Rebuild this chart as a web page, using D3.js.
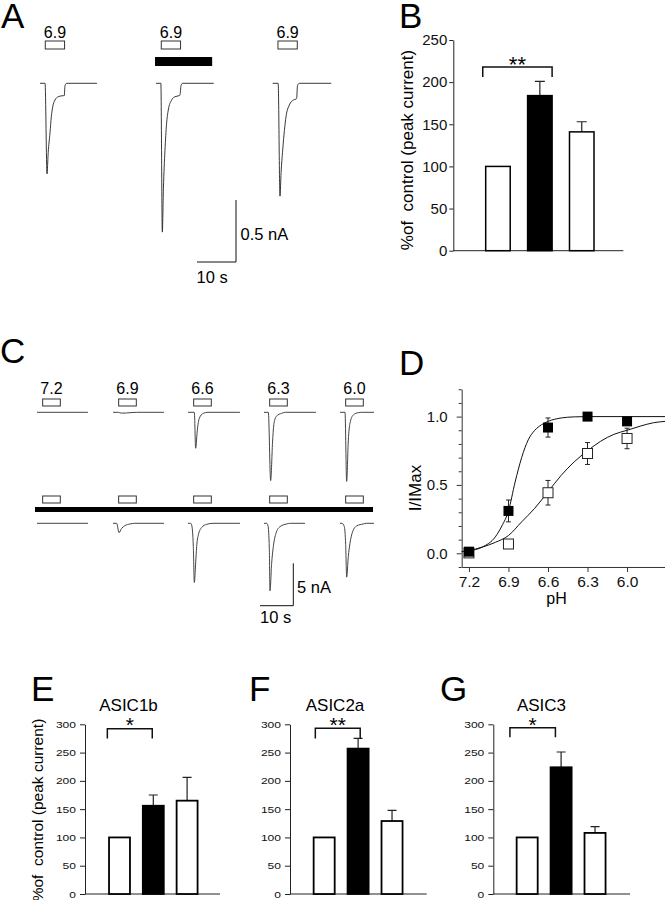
<!DOCTYPE html>
<html>
<head>
<meta charset="utf-8">
<style>
    body { margin: 0; background: #fff; }
    svg { font-family: "Liberation Sans", Arial, Helvetica, sans-serif; }
    .pre { white-space: pre; }
</style>
</head>
<body>
<script src="https://cdn.jsdelivr.net/npm/d3@7"></script>
<script>
// ---- data ----
// A: currents at pH 6.9, time (s) vs current (nA, inward negative)
var traceA_control = [[0,0],[1.3,0],[1.8,-0.73],[2.1,-0.56],[2.56,-0.40],[2.9,-0.27],[3.26,-0.19],[3.85,-0.135],[4.7,-0.108],[5.97,-0.1],[6.23,-0.1],[6.4,-0.02],[6.8,0],[14.6,0]];
var traceA_treated = [[0,0],[1.25,0],[1.62,-1.2],[1.9,-0.85],[2.3,-0.54],[2.7,-0.33],[3.15,-0.215],[4.0,-0.135],[4.87,-0.108],[5.9,-0.1],[6.15,-0.095],[6.4,-0.02],[6.8,0],[14.8,0]];
var traceA_wash = [[0,0],[1.4,0],[1.87,-0.91],[2.15,-0.72],[2.56,-0.54],[3.0,-0.38],[3.41,-0.27],[4.26,-0.175],[5.28,-0.135],[5.97,-0.127],[6.15,-0.12],[6.35,-0.02],[6.8,0],[15.0,0]];
var pulseA = [1.35, 6.3];
var drugBarA = [-0.25, 14.4];
var labelsA = ['6.9', '6.9', '6.9'];

// B: % of control (peak current)
var conditions = ['control', 'treated', 'washout'];
var pctB = [100, 184, 141], semB = [0, 17, 12];
var ticksB = [0, 50, 100, 150, 200, 250];
var bracketB = [218, 206];

// C: pH series, control row and treated row
var phLabels = ['7.2', '6.9', '6.6', '6.3', '6.0'];
var tracesC_control = [
    [[0,0],[15.3,0]],
    [[0,0],[1.6,0],[2.5,-0.1],[4,-0.08],[6,-0.02],[7,0],[15.3,0]],
    [[0,0],[1.9,0],[2.3,-4.24],[2.8,-2.08],[3.4,-0.7],[4.6,-0.12],[6,0],[15.6,0]],
    [[0,0],[1.3,0],[2.0,-8.05],[2.6,-3.26],[3.0,-1.3],[3.8,-0.43],[5.3,-0.12],[6.5,0],[15.6,0]],
    [[0,0],[1.5,0],[2.0,-8.15],[2.5,-3.26],[3.0,-1.3],[4.0,-0.31],[5.5,-0.04],[6.5,0],[10.2,0]]
];
var tracesC_treated = [
    [[0,0],[15.3,0]],
    [[0,0],[1.1,0],[1.8,-1.1],[2.6,-0.6],[3.6,-0.27],[5.1,-0.08],[6.5,0],[15.3,0]],
    [[0,0],[0.8,0],[1.1,-0.2],[1.6,-2.75],[1.9,-6.98],[2.3,-4.7],[2.6,-2.75],[3.1,-1.37],[4.1,-0.5],[5.6,-0.12],[7.5,0],[15.6,0]],
    [[0,0],[0.8,0],[1.2,-0.3],[1.6,-3],[1.8,-7.96],[2.3,-4.7],[2.8,-2.75],[3.6,-1.18],[4.8,-0.4],[6.8,-0.08],[8,0],[12.3,0]],
    [[0,0],[0.6,0],[1.3,-0.4],[1.7,-2.5],[2.0,-6.35],[2.5,-3.9],[3.0,-2.35],[3.8,-0.98],[5.0,-0.31],[7.0,-0.08],[8,0],[10.2,0]]
];
var pulseC = [1.7, 7.0];

// D: pH dependence, I/IMax
var phD = [7.2, 6.9, 6.6, 6.3, 6.0];
var filledD = [0.012, 0.31, 0.92, 1.0, 0.965];
var filledErrD = [0.01, 0.08, 0.07, 0.01, 0.02];
var openD = [0.003, 0.068, 0.443, 0.73, 0.84];
var openErrD = [0.005, 0.01, 0.09, 0.08, 0.075];
var fitFilledD = [[7.255,0.012],[7.2,0.018],[7.1,0.045],[7.0,0.12],[6.95,0.2],[6.9,0.31],[6.85,0.52],[6.8,0.7],[6.75,0.83],[6.7,0.9],[6.65,0.94],[6.6,0.965],[6.5,0.99],[6.4,0.998],[6.3,1.0],[5.712,1.0]];
var fitOpenD = [[7.255,0.012],[7.2,0.02],[7.1,0.045],[7.0,0.08],[6.9,0.13],[6.8,0.23],[6.7,0.33],[6.6,0.45],[6.5,0.57],[6.4,0.67],[6.3,0.75],[6.2,0.82],[6.1,0.87],[6.0,0.9],[5.9,0.93],[5.8,0.955],[5.712,0.965]];
var majorD = [0, 0.5, 1.0];
var minorD = [-0.1,0,0.1,0.2,0.3,0.4,0.5,0.6,0.7,0.8,0.9,1.0,1.1,1.2];

// E-G: other ASIC subunits
var titlesEFG = ['ASIC1b', 'ASIC2a', 'ASIC3'];
var pctE = [100, 156, 165], semE = [0, 19, 41];
var pctF = [100, 257, 129], semF = [0, 18, 19];
var pctG = [100, 224, 108], semG = [0, 27, 11];
var ticksEFG = [0, 50, 100, 150, 200, 250, 300];
var bracketsEFG = [[292, 275], [293, 275], [294, 277]];
var starsEFG = ['*', '**', '*'];

// ---- drawing ----
var svg = d3.select('body').append('svg').attr('width', 665).attr('height', 900);

function traceLine(xs, ys) {
    return d3.line().x(d => xs(d[0])).y(d => ys(d[1])).curve(d3.curveMonotoneX);
}

function letter(t, x, y) {
    svg.append('text').attr('x', x).attr('y', y).attr('font-size', 35).text(t);
}

// panel A
var xA = d3.scaleLinear().domain([0, 10]).range([0, 39]);
var yA = d3.scaleLinear().domain([0, -0.5]).range([0, 62]);
var startA = [40, 156, 272.7];
[traceA_control, traceA_treated, traceA_wash].forEach(function(tr, i) {
    var g = svg.append('g').attr('transform', 'translate(' + startA[i] + ',83.3)');
    g.append('path').datum(tr).attr('d', traceLine(xA, yA))
     .attr('fill', 'none').attr('stroke', '#222').attr('stroke-width', 0.9);
    g.append('rect').attr('x', xA(pulseA[0])).attr('y', -42.3)
     .attr('width', xA(pulseA[1]) - xA(pulseA[0])).attr('height', 8)
     .attr('fill', 'none').attr('stroke', '#333').attr('stroke-width', 1);
    g.append('text').attr('x', xA((pulseA[0] + pulseA[1]) / 2)).attr('y', -45.3)
     .attr('text-anchor', 'middle').attr('font-size', 16).text(labelsA[i]);
    if (i === 1) {
        g.append('rect').attr('x', xA(drugBarA[0])).attr('y', -26.3)
         .attr('width', xA(drugBarA[1]) - xA(drugBarA[0])).attr('height', 9).attr('fill', '#000');
    }
});
// scale bar A
svg.append('path')
   .attr('d', 'M236,' + (262 - yA(-0.5)) + 'V262H' + (236 - xA(10)))
   .attr('fill', 'none').attr('stroke', '#111');
svg.append('text').attr('x', 240.5).attr('y', 240).attr('font-size', 16.5).text('0.5 nA');
svg.append('text').attr('x', 196.5).attr('y', 283).attr('font-size', 16.5).text('10 s');
letter('A', 1, 28);

// bar panels
function barPanel(o) {
    var top = o.ticks[o.ticks.length - 1];
    var y = d3.scaleLinear().domain([0, top]).range([o.base, o.top]);
    var x = d3.scaleBand().domain(conditions).range(o.band)
              .paddingInner(o.gap).paddingOuter(o.gap / 2);
    var g = svg.append('g');

    var ax = g.append('g').attr('transform', 'translate(' + o.axisX + ',0)')
        .call(d3.axisLeft(y).tickValues(o.ticks).tickSize(o.tick).tickSizeOuter(0).tickPadding(o.pad));
    ax.attr('font-family', null).attr('font-size', o.font);
    ax.selectAll('path, line').attr('stroke', '#222');
    ax.selectAll('text').attr('fill', '#111');
    if (o.squeeze) {
        ax.selectAll('text').attr('textLength', d => String(d).length * o.squeeze)
          .attr('lengthAdjust', 'spacingAndGlyphs');
    }
    g.append('line').attr('x1', o.axisX).attr('x2', o.axisEnd)
     .attr('y1', y(0)).attr('y2', y(0)).attr('stroke', '#222');

    // error bars (upward only)
    o.values.forEach(function(v, i) {
        if (!o.sem[i]) return;
        var cx = x(conditions[i]) + x.bandwidth() / 2;
        g.append('path')
         .attr('d', 'M' + cx + ',' + y(v) + 'V' + y(v + o.sem[i]) + 'M' + (cx - o.cap) + ',' + y(v + o.sem[i]) + 'H' + (cx + o.cap))
         .attr('stroke', '#222').attr('stroke-width', 1.2).attr('fill', 'none');
    });
    g.selectAll('rect.bar').data(o.values).join('rect').attr('class', 'bar')
     .attr('x', (d, i) => x(conditions[i])).attr('y', d => y(d))
     .attr('width', x.bandwidth()).attr('height', d => y(0) - y(d))
     .attr('fill', (d, i) => i === 1 ? '#000' : '#fff')
     .attr('stroke', '#000').attr('stroke-width', o.barStroke);

    // significance bracket
    var bw = x.bandwidth();
    var bx0 = x(conditions[0]) + o.brk[0] * bw, bx1 = x(conditions[1]) + o.brk[1] * bw;
    g.append('path')
     .attr('d', 'M' + bx0 + ',' + y(o.bracket[1]) + 'V' + y(o.bracket[0]) + 'H' + bx1 + 'V' + y(o.bracket[1]))
     .attr('fill', 'none').attr('stroke', '#111').attr('stroke-width', 1.5);
    g.append('text').attr('x', (bx0 + bx1) / 2).attr('y', o.starY)
     .attr('text-anchor', 'middle').attr('font-size', o.starSize).text(o.stars);

    if (o.title) {
        g.append('text').attr('x', o.titleX).attr('y', 711).attr('text-anchor', 'middle')
         .attr('font-size', 17).text(o.title);
    }
    if (o.ylabel) {
        g.append('text').attr('class', 'pre')
         .attr('transform', 'translate(' + o.ylabel[0] + ',' + o.ylabel[1] + ') rotate(-90)')
         .attr('text-anchor', 'middle').attr('font-size', o.ylabel[2]).text('%of  control (peak current)');
    }
}

barPanel({
    ticks: ticksB, base: 250.7, top: 40, band: [477, 602.7], gap: 0.415,
    axisX: 453.3, axisEnd: 623.3, tick: 4, pad: 2, font: 15,
    values: pctB, sem: semB, cap: 5, barStroke: 1.5,
    bracket: bracketB, brk: [-0.12, 1.0], stars: '**', starY: 72, starSize: 22,
    ylabel: [413, 150, 17]
});
letter('B', 399, 28);

var layoutEFG = [
    {axisX: 85, axisEnd: 220, band: [102.6, 204], brk: [-0.08, 0.45], titleX: 128.5},
    {axisX: 290, axisEnd: 426.7, band: [307.2, 409], brk: [0.08, 0.6], titleX: 335},
    {axisX: 493.3, axisEnd: 630, band: [510.2, 612], brk: [-0.32, 0.23], titleX: 541.5}
];
[[pctE, semE], [pctF, semF], [pctG, semG]].forEach(function(d, i) {
    var L = layoutEFG[i];
    barPanel({
        ticks: ticksEFG, base: 894, top: 724.3, band: L.band, gap: 0.38,
        axisX: L.axisX, axisEnd: L.axisEnd, tick: 5, pad: 4, font: 9.5, squeeze: 6.7,
        values: d[0], sem: d[1], cap: 4.5, barStroke: 1.8,
        bracket: bracketsEFG[i], brk: L.brk, stars: starsEFG[i], starY: 732, starSize: 21,
        title: titlesEFG[i], titleX: L.titleX,
        ylabel: i === 0 ? [43, 810, 15.5] : null
    });
});
letter('E', 31, 701);
letter('F', 249, 701);
letter('G', 440, 701);

// panel C
var xC = d3.scaleLinear().domain([0, 10]).range([0, 33.3]);
var yC = d3.scaleLinear().domain([0, -5]).range([0, 42.4]);
var startC = [37, 113, 188, 264, 340];
[[tracesC_control, 412.3, 399], [tracesC_treated, 523.3, 496]].forEach(function(row, r) {
    row[0].forEach(function(tr, i) {
        var g = svg.append('g').attr('transform', 'translate(' + startC[i] + ',' + row[1] + ')');
        g.append('path').datum(tr).attr('d', traceLine(xC, yC))
         .attr('fill', 'none').attr('stroke', '#444').attr('stroke-width', 1);
        g.append('rect').attr('x', xC(pulseC[0])).attr('y', row[2] - row[1])
         .attr('width', xC(pulseC[1]) - xC(pulseC[0])).attr('height', 7)
         .attr('fill', 'none').attr('stroke', '#333').attr('stroke-width', 1);
        if (r === 0) {
            g.append('text').attr('x', xC((pulseC[0] + pulseC[1]) / 2)).attr('y', 394 - row[1])
             .attr('text-anchor', 'middle').attr('font-size', 16).text(phLabels[i]);
        }
    });
});
svg.append('rect').attr('x', 35).attr('y', 507).attr('width', 338).attr('height', 5).attr('fill', '#000');
svg.append('path')
   .attr('d', 'M293.3,' + (605.7 - yC(-5)) + 'V605.7H' + (293.3 - xC(10)))
   .attr('fill', 'none').attr('stroke', '#111');
svg.append('text').attr('x', 297).attr('y', 593).attr('font-size', 16.5).text('5 nA');
svg.append('text').attr('x', 260).attr('y', 623).attr('font-size', 16.5).text('10 s');
letter('C', 0, 363);

// panel D
var xD = d3.scaleLinear().domain([7.255, 5.712]).range([461.7, 665]);
var yD = d3.scaleLinear().domain([-0.1, 1.2]).range([566.97, 389.26]);
var gD = svg.append('g');
var yAxD = gD.append('g').attr('transform', 'translate(461.7,0)')
    .call(d3.axisLeft(yD).tickValues(minorD).tickSize(3).tickSizeOuter(0).tickPadding(11)
        .tickFormat(d => majorD.some(m => Math.abs(m - d) < 1e-6) ? d3.format('.1f')(d) : ''));
yAxD.attr('font-family', null).attr('font-size', 15);
yAxD.selectAll('.tick').filter(d => majorD.some(m => Math.abs(m - d) < 1e-6))
    .select('line').attr('x2', -5);
var xAxD = gD.append('g').attr('transform', 'translate(0,' + yD(-0.1) + ')')
    .call(d3.axisBottom(xD).tickValues(phD).tickSize(5).tickSizeOuter(0).tickPadding(4)
        .tickFormat(d3.format('.1f')));
xAxD.attr('font-family', null).attr('font-size', 15.5);
gD.selectAll('path.domain, .tick line').attr('stroke', '#333');
gD.selectAll('.tick text').attr('fill', '#111');

var fitLine = d3.line().x(d => xD(d[0])).y(d => yD(d[1])).curve(d3.curveMonotoneX);
gD.append('path').datum(fitOpenD).attr('d', fitLine).attr('fill', 'none').attr('stroke', '#111').attr('stroke-width', 1);
gD.append('path').datum(fitFilledD).attr('d', fitLine).attr('fill', 'none').attr('stroke', '#111').attr('stroke-width', 1);

function errBars(vals, errs) {
    gD.append('g').selectAll('path').data(vals).join('path')
      .attr('d', function(v, i) {
          var cx = xD(phD[i]), lo = yD(v - errs[i]), hi = yD(v + errs[i]);
          return 'M' + cx + ',' + lo + 'V' + hi + 'M' + (cx - 2.5) + ',' + lo + 'H' + (cx + 2.5) +
                 'M' + (cx - 2.5) + ',' + hi + 'H' + (cx + 2.5);
      })
      .attr('stroke', '#222').attr('fill', 'none');
}
errBars(openD, openErrD);
errBars(filledD, filledErrD);
gD.append('g').selectAll('rect').data(openD).join('rect')
  .attr('x', (d, i) => xD(phD[i]) - 5).attr('y', d => yD(d) - 5)
  .attr('width', 10).attr('height', 10).attr('fill', '#fff').attr('stroke', '#222');
gD.append('g').selectAll('rect').data(filledD).join('rect')
  .attr('x', (d, i) => xD(phD[i]) - 5).attr('y', d => yD(d) - 5)
  .attr('width', 10).attr('height', 10).attr('fill', '#000');
gD.append('text').attr('x', 556.5).attr('y', 604).attr('text-anchor', 'middle').attr('font-size', 16).text('pH');
gD.append('text').attr('transform', 'translate(421,488) rotate(-90)')
  .attr('text-anchor', 'middle').attr('font-size', 17).text('I/IMax');
letter('D', 399, 375);
</script>
</body>
</html>
